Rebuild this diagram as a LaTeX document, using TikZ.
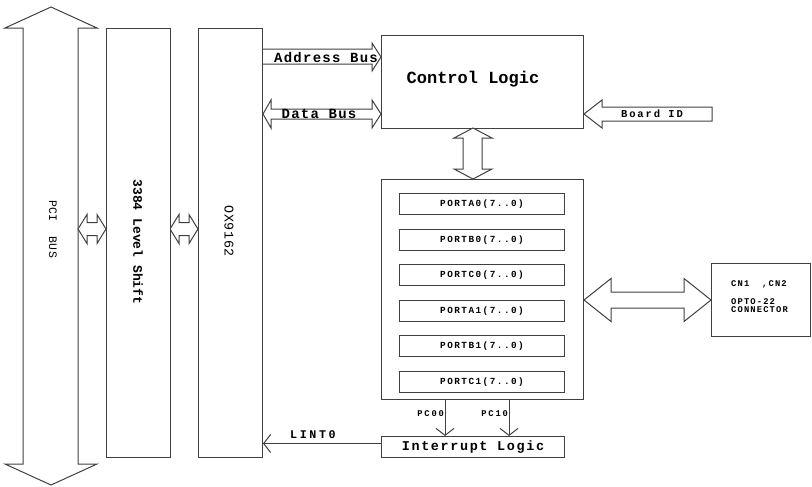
\documentclass[tikz,border=0pt]{standalone}
\usepackage{fontspec}
\setmainfont{Liberation Mono}
\usetikzlibrary{arrows.meta,calc}
\definecolor{linegray}{RGB}{64,64,64}
\newcommand{\lblfont}[2]{\fontsize{#1}{#1}\selectfont\addfontfeature{LetterSpace=#2}}
\tikzset{every picture/.style={line width=0.75pt},
  box/.style={draw=linegray, fill=white, anchor=north west, inner sep=0pt},
  portbox/.style={box, minimum width=123.75pt, minimum height=15.75pt, font=\bfseries\lblfont{7}{16}},
  blockarrow/.style={draw=linegray, fill=white, line join=miter},
  sigarrow/.style={draw=linegray, -{Straight Barb[length=5.25pt,width=13.5pt]}},
  txt/.style={inner sep=0.5pt, text=black}}

\begin{document}
\begin{tikzpicture}[x=0.75pt,y=0.75pt,yscale=-1,xscale=1]
\path[use as bounding box] (0,0) rectangle (812,486);

%Shape: Double Arrow (PCI bus)
\draw [blockarrow] (51,7) -- (97,28) -- (78,28) -- (78,464) -- (97,464) -- (51,485) -- (5,464) -- (23,464) -- (23,28) -- (5,28) -- cycle ;
%Shape: Double Arrow (bus to level shift, level shift to OX9162)
\foreach \x in {78,170}
  \draw [blockarrow] (\x,229) -- (\x+9,214.5) -- (\x+9,222.5) -- (\x+19,222.5) -- (\x+19,214.5) -- (\x+28,229) -- (\x+19,243.5) -- (\x+19,235.5) -- (\x+9,235.5) -- (\x+9,243.5) -- cycle ;

%Shape: Rectangle
\node [box, minimum width=48pt, minimum height=321.75pt] (shift) at (106,28) {};
%Shape: Rectangle
\node [box, minimum width=48pt, minimum height=321.75pt] (ox) at (198,28) {};
%Shape: Rectangle
\node [box, minimum width=151.5pt, minimum height=69.75pt] (ctrl) at (381,35) {};
%Shape: Rectangle
\node [box, minimum width=151.5pt, minimum height=165pt] (ports) at (381,179) {};
%Shape: Rectangle
\node [box, minimum width=137.25pt, minimum height=15.75pt, font=\bfseries\lblfont{10.1}{12}] (intr) at (381,436) {Interrupt Logic};
%Shape: Rectangle
\node [box, minimum width=74.25pt, minimum height=54.75pt] (cn) at (711,263) {};

%Shape: Rectangle (port registers)
\foreach \name [count=\i from 0] in {A0,B0,C0,A1,B1,C1}
  \node [portbox] (port\name) at (399,193+35.6*\i) {PORT\name(7..0)};

%Shape: Single Arrow (address bus)
\draw [blockarrow] (ox.east |- 0,49) -- (372,49) -- (372,43) -- (ctrl.west |- 0,57) -- (372,71) -- (372,64) -- (ox.east |- 0,64) ;
%Shape: Double Arrow (data bus)
\draw [blockarrow] (ox.east |- 0,114) -- (271,100) -- (271,109) -- (372,109) -- (372,100) -- (ctrl.west |- 0,114) -- (372,128) -- (372,119) -- (271,119) -- (271,128) -- cycle ;
%Shape: Single Arrow (board id)
\draw [blockarrow] (ctrl.east |- 0,114) -- (602,100) -- (602,107) -- (712,107) -- (712,121) -- (602,121) -- (602,128) -- cycle ;
%Shape: Double Arrow (control logic to ports)
\draw [blockarrow] (473,128) -- (492,138) -- (482,138) -- (482,169) -- (492,169) -- (473,179) -- (454,169) -- (463,169) -- (463,138) -- (454,138) -- cycle ;
%Shape: Double Arrow (ports to connector)
\draw [blockarrow] (ports.east |- 0,300) -- (611,278.5) -- (611,292) -- (684,292) -- (684,278.5) -- (cn.west |- 0,300) -- (684,321.5) -- (684,308) -- (611,308) -- (611,321.5) -- cycle ;

%Straight Lines
\coordinate (pc0) at ($(ports.south west)+(64,0)$);
\coordinate (pc1) at ($(ports.south west)+(128,0)$);
\coordinate (lint) at ($(intr.west)+(0,-3.5)$);
\draw [sigarrow] (pc0) -- (pc0 |- intr.north) ;
\draw [sigarrow] (pc1) -- (pc1 |- intr.north) ;
\draw [sigarrow] (lint) -- (lint -| ox.east) ;

% Text Node
\node [txt, rotate=-90, font=\lblfont{8.6}{4}] (pcilbl) at (53,229) {PCI\ \ BUS};
% Text Node
\node [txt, rotate=-90, font=\bfseries\lblfont{9.75}{0}] (shiftlbl) at (138,242) {3384 Level Shift};
% Text Node
\node [txt, rotate=-90, font=\lblfont{10}{5}] (oxlbl) at (229,231) {OX9162};
% Text Node
\node [txt, font=\bfseries\lblfont{12.75}{0}] (ctrllbl) at (473,79) {Control Logic};
% Text Node
\node [txt, font=\bfseries\lblfont{10.5}{9}] (addrlbl) at (326,57) {Address Bus};
% Text Node
\node [txt, font=\bfseries\lblfont{10.5}{9}] (datalbl) at (319,114) {Data Bus};
% Text Node
\node [txt, font=\bfseries\lblfont{7.9}{18}] (idlbl) at (652,114) {Board ID};
% Text Node
\node [txt, anchor=east, font=\bfseries\lblfont{6.6}{20}] (pc0lbl) at ($(pc0)+(0,14)$) {PC00};
% Text Node
\node [txt, anchor=east, font=\bfseries\lblfont{6.6}{20}] (pc1lbl) at ($(pc1)+(0,14)$) {PC10};
% Text Node
\node [txt, anchor=south, font=\bfseries\lblfont{8.8}{22}] (lintlbl) at (313,440) {LINT0};
% Text Node
\node [txt, anchor=north west, align=left, font=\bfseries\lblfont{6.6}{13}] (cnlbl) at (730,279) {CN1\ \ ,CN2\\[7pt]OPTO-22\\[-0.6pt]CONNECTOR};

\end{tikzpicture}
\end{document}
